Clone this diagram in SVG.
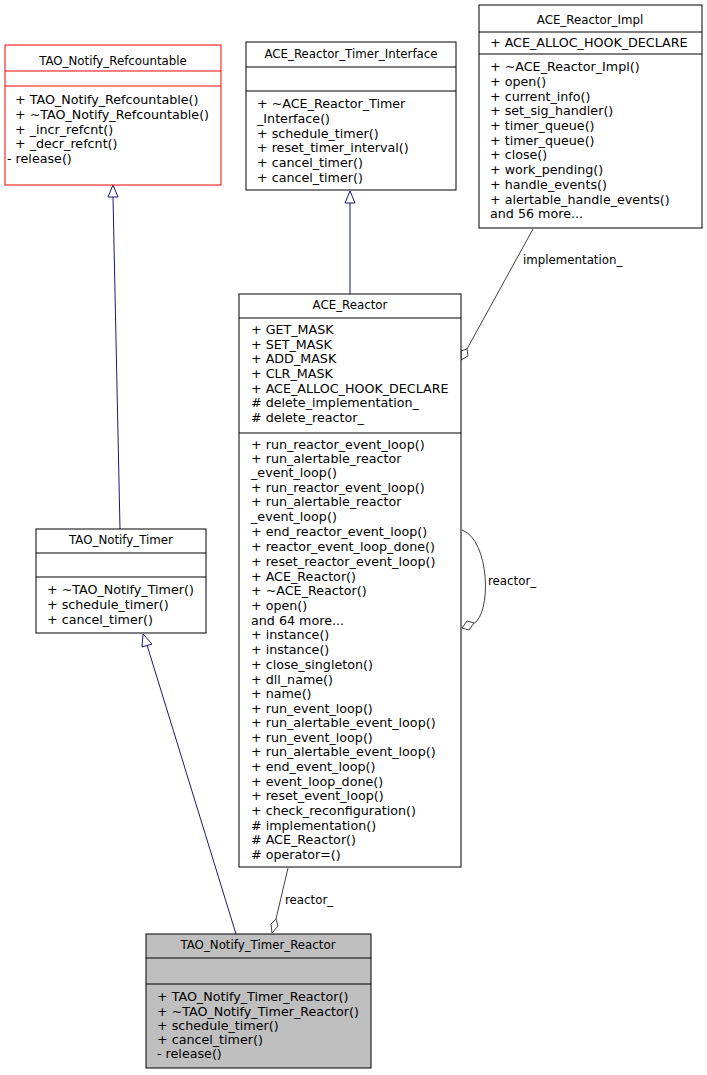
<svg xmlns="http://www.w3.org/2000/svg" width="707" height="1075" viewBox="0 0 707 1075">
<style>
text{font-family:"DejaVu Sans",sans-serif;font-size:12.7px;fill:#000}
.t{text-anchor:middle;font-size:11.8px}
.l{font-size:11.8px}
.b{fill:#fff;stroke:#000;stroke-width:1}
.s{stroke:#000;stroke-width:1}
.e{fill:none;stroke:#191970;stroke-width:1}
.a{fill:none;stroke:#404040;stroke-width:1}
.tri{fill:#fff;stroke:#191970}
.dia{fill:#fff;stroke:#404040}
</style>
<g id="edges">
<path class="e" d="M120,529 L113,197"/><path class="tri" d="M108,197 L113,185 L118,197 Z"/>
<path class="e" d="M350,294 L350,203"/><path class="tri" d="M345,203 L350,191 L355,203 Z"/>
<path class="e" d="M236,934 L147,645"/><path class="tri" d="M142,647 L143,634 L152,644 Z"/>
<path class="a" d="M533,229 L467,349"/><path class="dia" d="M461,360 L461,351 L467,349 L468,356 Z"/>
<text class="l" x="523" y="264">implementation_</text>
<path class="a" d="M462,530 C490,540 492,615 473,624"/><path class="dia" d="M462,628 L467,621 L474,623 L469,630 Z"/>
<text class="l" x="488" y="585">reactor_</text>
<path class="a" d="M288,868 L276,919"/><path class="dia" d="M272,933 L271,924 L276,919 L278,926 Z"/>
<text class="l" x="285" y="904">reactor_</text>
</g>
<g id="refcountable">
<rect x="5" y="45" width="216" height="140" fill="#fff" stroke="#f00"/>
<path d="M5,71H221M5,86H221" stroke="#f00"/>
<text class="t" x="113" y="65">TAO_Notify_Refcountable</text>
<text x="15" y="104">+ TAO_Notify_Refcountable()</text>
<text x="15" y="119">+ ~TAO_Notify_Refcountable()</text>
<text x="15" y="134">+ _incr_refcnt()</text>
<text x="15" y="148">+ _decr_refcnt()</text>
<text x="7" y="163">- release()</text>
</g>
<g id="timer_interface">
<rect class="b" x="246" y="42" width="210" height="148"/>
<path class="s" d="M246,67H456M246,91H456"/>
<text class="t" x="351" y="58">ACE_Reactor_Timer_Interface</text>
<text x="257" y="108">+ ~ACE_Reactor_Timer</text>
<text x="257" y="123">_Interface()</text>
<text x="257" y="138">+ schedule_timer()</text>
<text x="257" y="152">+ reset_timer_interval()</text>
<text x="257" y="167">+ cancel_timer()</text>
<text x="257" y="182">+ cancel_timer()</text>
</g>
<g id="impl">
<rect class="b" x="479" y="5" width="223" height="223"/>
<path class="s" d="M479,32H702M479,54H702"/>
<text class="t" x="590" y="24">ACE_Reactor_Impl</text>
<text x="490" y="47">+ ACE_ALLOC_HOOK_DECLARE</text>
<text x="490" y="71">+ ~ACE_Reactor_Impl()</text>
<text x="490" y="86">+ open()</text>
<text x="490" y="101">+ current_info()</text>
<text x="490" y="115">+ set_sig_handler()</text>
<text x="490" y="130">+ timer_queue()</text>
<text x="490" y="145">+ timer_queue()</text>
<text x="490" y="159">+ close()</text>
<text x="490" y="174">+ work_pending()</text>
<text x="490" y="189">+ handle_events()</text>
<text x="490" y="204">+ alertable_handle_events()</text>
<text x="490" y="218">and 56 more...</text>
</g>
<g id="reactor">
<rect class="b" x="239" y="294" width="222" height="573"/>
<path class="s" d="M239,318H461M239,433H461"/>
<text class="t" x="350" y="309">ACE_Reactor</text>
<text x="251" y="334">+ GET_MASK</text>
<text x="251" y="349">+ SET_MASK</text>
<text x="251" y="363">+ ADD_MASK</text>
<text x="251" y="378">+ CLR_MASK</text>
<text x="251" y="393">+ ACE_ALLOC_HOOK_DECLARE</text>
<text x="251" y="407"># delete_implementation_</text>
<text x="251" y="422"># delete_reactor_</text>
<text x="251" y="449">+ run_reactor_event_loop()</text>
<text x="251" y="463">+ run_alertable_reactor</text>
<text x="251" y="477">_event_loop()</text>
<text x="251" y="492">+ run_reactor_event_loop()</text>
<text x="251" y="506">+ run_alertable_reactor</text>
<text x="251" y="521">_event_loop()</text>
<text x="251" y="536">+ end_reactor_event_loop()</text>
<text x="251" y="551">+ reactor_event_loop_done()</text>
<text x="251" y="566">+ reset_reactor_event_loop()</text>
<text x="251" y="581">+ ACE_Reactor()</text>
<text x="251" y="595">+ ~ACE_Reactor()</text>
<text x="251" y="610">+ open()</text>
<text x="251" y="625">and 64 more...</text>
<text x="251" y="639">+ instance()</text>
<text x="251" y="654">+ instance()</text>
<text x="251" y="669">+ close_singleton()</text>
<text x="251" y="684">+ dll_name()</text>
<text x="251" y="698">+ name()</text>
<text x="251" y="713">+ run_event_loop()</text>
<text x="251" y="727">+ run_alertable_event_loop()</text>
<text x="251" y="742">+ run_event_loop()</text>
<text x="251" y="756">+ run_alertable_event_loop()</text>
<text x="251" y="771">+ end_event_loop()</text>
<text x="251" y="786">+ event_loop_done()</text>
<text x="251" y="800">+ reset_event_loop()</text>
<text x="251" y="815">+ check_reconfiguration()</text>
<text x="251" y="830"># implementation()</text>
<text x="251" y="844"># ACE_Reactor()</text>
<text x="251" y="859"># operator=()</text>
</g>
<g id="timer">
<rect class="b" x="36" y="529" width="170" height="104"/>
<path class="s" d="M36,553H206M36,577H206"/>
<text class="t" x="121" y="544">TAO_Notify_Timer</text>
<text x="47" y="594">+ ~TAO_Notify_Timer()</text>
<text x="47" y="609">+ schedule_timer()</text>
<text x="47" y="624">+ cancel_timer()</text>
</g>
<g id="timer_reactor">
<rect x="146" y="934" width="225" height="134" fill="#bfbfbf" stroke="#000"/>
<path class="s" d="M146,958H371M146,984H371"/>
<text class="t" x="258" y="949">TAO_Notify_Timer_Reactor</text>
<text x="157" y="1001">+ TAO_Notify_Timer_Reactor()</text>
<text x="157" y="1016">+ ~TAO_Notify_Timer_Reactor()</text>
<text x="157" y="1030">+ schedule_timer()</text>
<text x="157" y="1044">+ cancel_timer()</text>
<text x="157" y="1058">- release()</text>
</g>
</svg>
